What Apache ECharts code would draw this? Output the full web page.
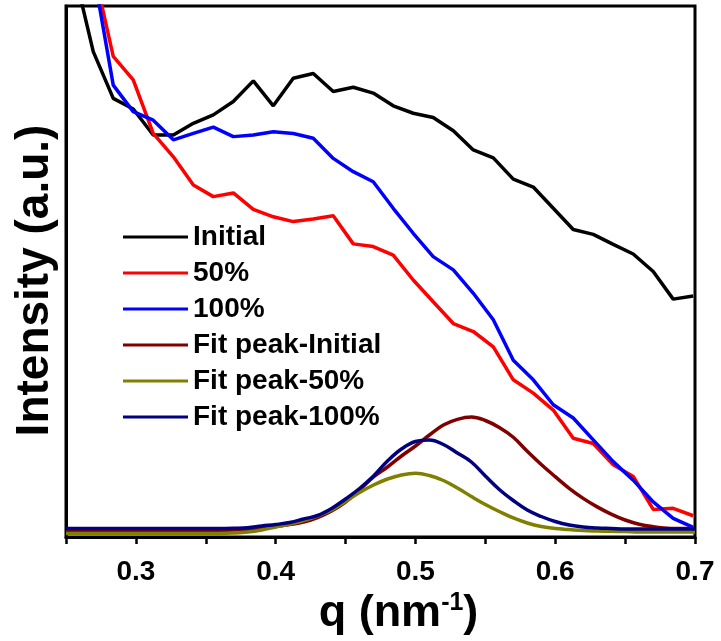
<!DOCTYPE html>
<html>
<head>
<meta charset="utf-8">
<script src="https://cdn.jsdelivr.net/npm/echarts@6/dist/echarts.min.js"></script>
<style>html,body{margin:0;padding:0;background:#fff;}#c{width:721px;height:641px;}</style>
</head>
<body>
<div id="c"></div>
<script>
// Measured curves (q in nm^-1, intensity in arbitrary units)
const qMeas = [0.2552,0.2695,0.2838,0.2981,0.3124,0.3268,0.3411,0.3554,0.3697,0.3840,0.3983,0.4126,0.4269,0.4412,0.4555,0.4698,0.4841,0.4984,0.5127,0.5271,0.5414,0.5557,0.5700,0.5843,0.5986,0.6129,0.6272,0.6415,0.6558,0.6701,0.6844,0.6987];
const initialI = [107.3,91.4,82.6,80.6,75.7,75.7,77.9,79.5,82.0,85.9,81.2,86.4,87.3,83.9,84.7,83.6,81.2,79.8,79.0,76.5,72.9,71.4,67.4,65.9,61.9,57.9,57.0,55.1,53.3,50.0,44.8,45.4];
const i50 = [121.8,107.3,90.5,86.1,76.0,71.6,66.3,64.1,64.8,61.7,60.3,59.4,59.9,60.5,55.2,54.7,53.1,48.4,44.3,40.2,38.7,35.8,29.6,27.1,23.9,18.6,17.6,13.6,11.4,5.2,5.4,4.0];
const i100 = [129.0,106.6,85.1,80.1,78.5,74.8,76.0,77.2,75.4,75.7,76.3,76.0,75.1,71.3,68.8,66.9,61.9,57.2,52.8,50.3,45.9,40.9,33.3,29.6,24.9,22.4,18.3,14.2,10.7,6.6,3.5,1.8];

// Fitted peaks
const qFit = [0.25,0.26,0.27,0.28,0.29,0.30,0.31,0.32,0.33,0.34,0.35,0.36,0.37,0.38,0.39,0.40,0.41,0.42,0.43,0.44,0.45,0.46,0.47,0.48,0.49,0.50,0.51,0.52,0.53,0.54,0.55,0.56,0.57,0.58,0.59,0.60,0.61,0.62,0.63,0.64,0.65,0.66,0.67,0.68,0.69,0.70];
const fitInitial = [1.13,1.13,1.13,1.13,1.13,1.13,1.13,1.13,1.13,1.13,1.13,1.13,1.32,1.41,1.69,1.98,2.35,2.82,3.67,4.90,6.59,8.85,11.30,13.18,15.25,17.14,19.21,21.09,22.15,22.60,21.94,20.62,18.78,16.14,13.65,11.36,9.17,7.27,5.67,4.31,3.20,2.41,1.94,1.66,1.60,1.54];
const fit50 = [0.66,0.66,0.66,0.66,0.66,0.66,0.66,0.66,0.66,0.66,0.66,0.66,0.75,0.94,1.32,1.88,2.45,3.11,3.95,5.08,6.69,8.38,9.79,10.92,11.68,12.00,11.58,10.64,9.23,7.63,6.12,4.80,3.58,2.64,1.98,1.60,1.41,1.22,1.13,1.07,1.04,0.94,0.94,0.94,0.94,0.94];
const fit100 = [1.60,1.60,1.60,1.60,1.60,1.60,1.60,1.60,1.60,1.60,1.60,1.60,1.64,1.73,2.07,2.35,2.73,3.39,4.05,5.37,7.16,9.13,11.49,14.31,16.57,17.98,18.27,17.42,15.82,14.12,11.49,8.95,6.87,5.08,3.86,2.92,2.26,1.88,1.69,1.60,1.51,1.51,1.51,1.51,1.51,1.51];

const seriesNames = ['Initial','50%','100%','Fit peak-Initial','Fit peak-50%','Fit peak-100%'];
const seriesColors = ['#000000','#ff0000','#0000ff','#800000','#808000','#000080'];

const pair = (xs, ys) => xs.map((x, i) => [x, ys[i]]);
const datasets = [pair(qMeas, initialI), pair(qMeas, i50), pair(qMeas, i100),
                  pair(qFit, fitInitial), pair(qFit, fit50), pair(qFit, fit100)];

const FONT = "'Liberation Sans', Arial, sans-serif";
const chart = echarts.init(document.getElementById('c'), null, {renderer: 'canvas'});
chart.setOption({
  animation: false,
  backgroundColor: '#fff',
  grid: {left: 66, right: 26, top: 6, bottom: 104, show: true, borderColor: '#000', borderWidth: 3, backgroundColor: 'transparent'},
  legend: {
    orient: 'vertical', left: 118, top: 218,
    itemWidth: 65, itemHeight: 3, itemGap: 8,
    data: seriesNames.map((n, i) => ({name: n, icon: 'rect', itemStyle: {color: seriesColors[i]}})),
    textStyle: {fontFamily: FONT, fontWeight: 'bold', fontSize: 28, color: '#000', lineHeight: 28}
  },
  xAxis: {
    type: 'value', min: 0.25, max: 0.7, interval: 0.05,
    axisLine: {show: true, lineStyle: {color: '#000', width: 3}},
    axisTick: {show: true, inside: false, length: 7, lineStyle: {color: '#000', width: 2.5}},
    splitLine: {show: false},
    axisLabel: {
      margin: 21, color: '#000', fontFamily: FONT, fontWeight: 'bold', fontSize: 28,
      formatter: v => (Math.abs(v * 10 - Math.round(v * 10)) < 1e-6 && v > 0.26) ? v.toFixed(1) : ''
    },
    name: '{t|q (nm}{s|-1}{t|)}', nameLocation: 'middle', nameGap: 52,
    nameTextStyle: {
      padding: [0, 0, 0, 36],
      rich: {
        t: {fontFamily: FONT, fontWeight: 'bold', fontSize: 45, color: '#000'},
        s: {fontFamily: FONT, fontWeight: 'bold', fontSize: 25, color: '#000', verticalAlign: 'top', padding: [0, 0, 16, 0]}
      }
    }
  },
  yAxis: {
    type: 'value', min: 0, max: 100,
    axisLine: {show: true, lineStyle: {color: '#000', width: 3}},
    axisTick: {show: false}, axisLabel: {show: false}, splitLine: {show: false},
    name: 'Intensity (a.u.)', nameLocation: 'middle', nameGap: 8,
    nameTextStyle: {fontFamily: FONT, fontWeight: 'bold', fontSize: 46, color: '#000', padding: [0, 18, 0, 0]}
  },
  series: seriesNames.map((n, i) => ({
    name: n, type: 'line', data: datasets[i], symbol: 'none', showSymbol: false,
    clip: true, z: 2 + i, smooth: i >= 3 ? 0.4 : false,
    lineStyle: {color: seriesColors[i], width: 3.5},
    itemStyle: {color: seriesColors[i]}
  }))
});
</script>
</body>
</html>
